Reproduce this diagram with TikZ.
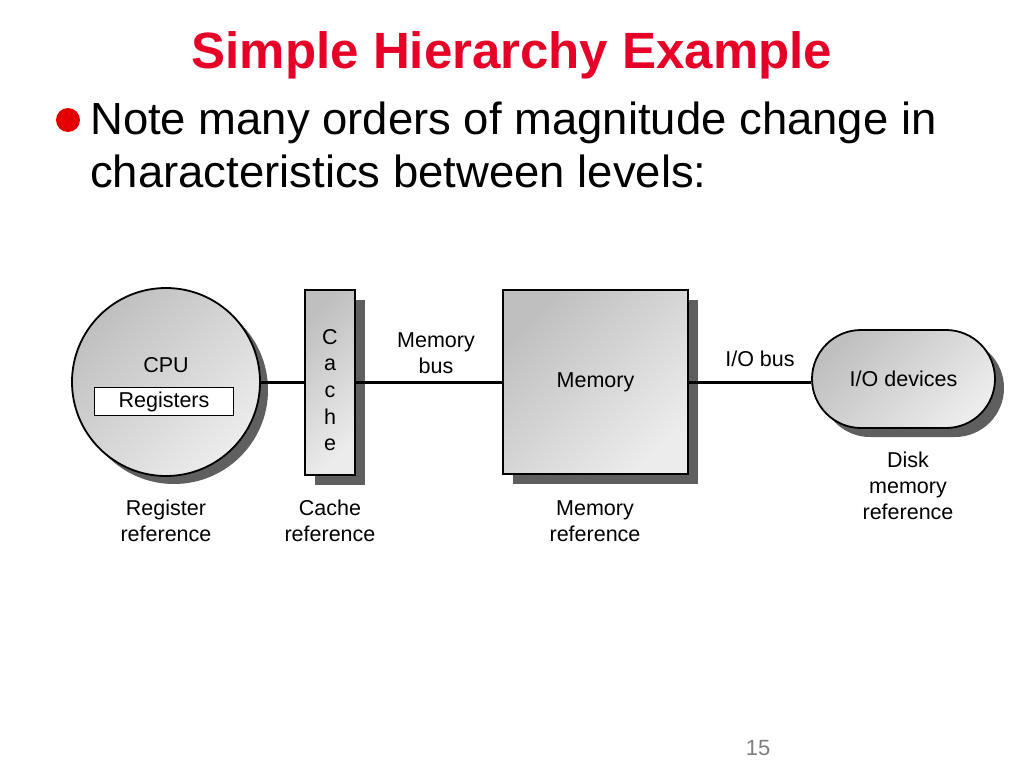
\documentclass[tikz,border=0pt]{standalone}
\usepackage{fontspec}
\setmainfont{Liberation Sans}
\usetikzlibrary{shapes.misc}
\definecolor{titlered}{RGB}{230,0,40}
\definecolor{shadowgray}{RGB}{95,95,95}
\begin{document}
\begin{tikzpicture}[x=1pt,y=-1pt,
  box/.style={draw=black,line width=1.8pt,shading=axis,top color=gray!50!white,bottom color=gray!15!white,shading angle=45},
  shad/.style={fill=shadowgray,draw=none},
  lbl/.style={font=\fontsize{21.5}{26}\selectfont,align=center,inner sep=0pt},
  bus/.style={line width=3pt}]
\useasboundingbox[fill=white] (0,0) rectangle (1024,768);
% title
\node[text=titlered,font=\fontsize{51}{56}\bfseries\selectfont,inner sep=0pt] (title) at (512,55) {Simple Hierarchy Example};
\fill[red!90!black] (68,120) circle (12);
\node[anchor=base west,inner sep=0pt,font=\fontsize{45}{50}\selectfont,xscale=1.01] (l1) at (90,134) {Note many orders of magnitude change in};
\node[anchor=base west,inner sep=0pt,font=\fontsize{45}{50}\selectfont,xscale=1.01] (l2) at (90,187) {characteristics between levels:};
% shadows
\fill[shad] (174,390) circle (94);
\fill[shad] (315,300) rectangle (365,485);
\fill[shad] (513,300) rectangle (698,484);
\fill[shad,rounded corners=49] (821,339) rectangle (1004,437);
% CPU
\node[box,circle,minimum size=188,inner sep=0pt] (cpu) at (166,382) {};
\node[lbl] (cputxt) at (166,365) {CPU};
\node[draw=black,fill=white,line width=1.6pt,minimum width=139,minimum height=28,inner sep=0pt,font=\fontsize{21.5}{24}\selectfont] (reg) at (164,401.5) {Registers};
% cache
\node[box,minimum width=50,minimum height=185,inner sep=0pt] (cache) at (330,382.5) {};
\node[align=center,inner sep=0pt,font=\fontsize{21.5}{26.7}\selectfont] (cachetxt) at (330,390) {C\\a\\c\\h\\e};
% memory
\node[box,minimum width=185,minimum height=184,inner sep=0pt,font=\fontsize{21.5}{24}\selectfont] (mem) at (595.5,382) {Memory};
% io
\node[box,rounded rectangle,minimum width=183,minimum height=98,inner sep=0pt,font=\fontsize{21.5}{24}\selectfont] (io) at (903.5,379) {I/O devices};
% buses
\draw[bus] (cpu.east) -- (cache.west |- cpu.east);
\draw[bus] (cache.east |- mem.west) -- (mem.west);
\draw[bus] (mem.east) -- (io.west |- mem.east);
\node[lbl] (membus) at (436,353) {Memory\\bus};
\node[lbl] (iobus) at (760,359) {I/O bus};
% labels
\node[lbl] (rref) at (166,521) {Register\\reference};
\node[lbl] (cref) at (330,521) {Cache\\reference};
\node[lbl] (mref) at (595,521) {Memory\\reference};
\node[lbl] (dref) at (908,486) {Disk\\memory\\reference};
\node[text=gray,font=\fontsize{22}{26}\selectfont] (pg) at (758,748) {15};
\end{tikzpicture}
\end{document}
